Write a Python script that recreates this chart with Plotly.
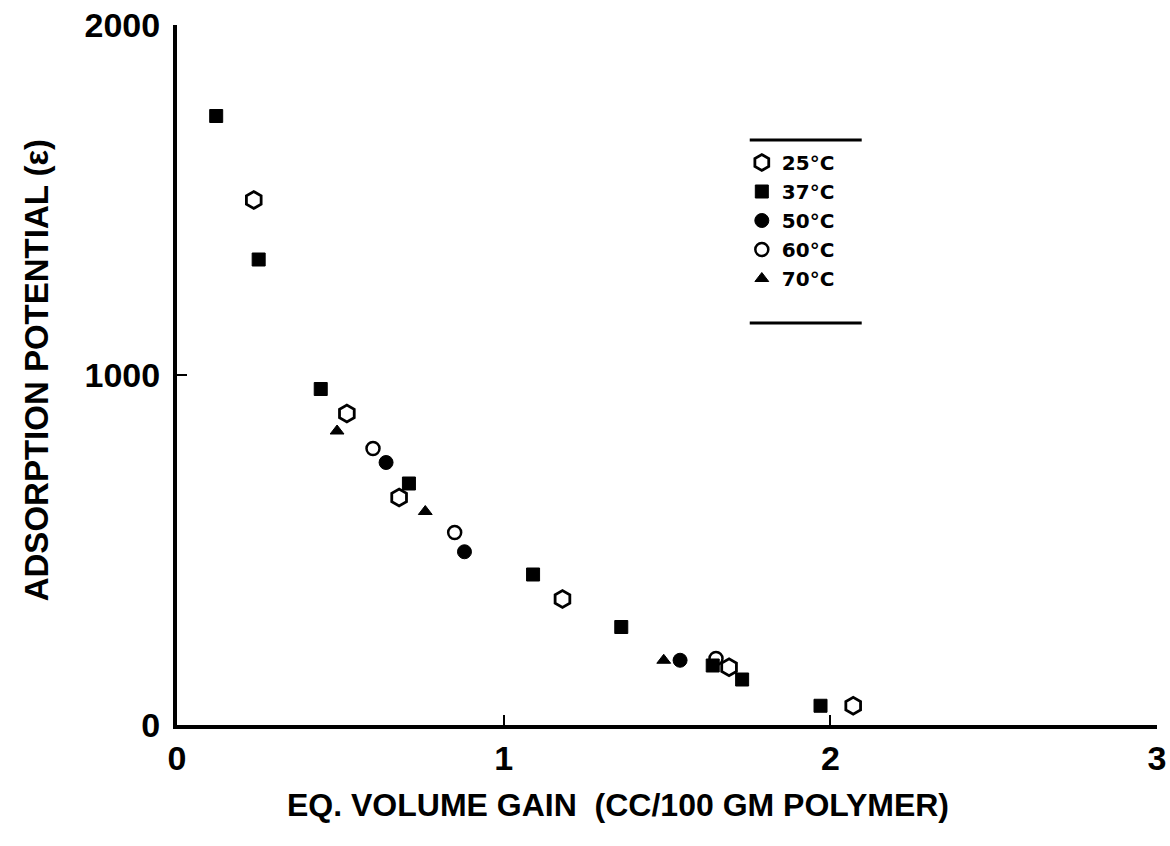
import plotly.graph_objects as go

# ---- data ----
x_25 = [0.235, 0.52, 0.68, 1.18, 1.69, 2.07]
y_25 = [1500, 890, 650, 360, 165, 55]

x_37 = [0.12, 0.25, 0.44, 0.71, 1.09, 1.36, 1.64, 1.73, 1.97]
y_37 = [1740, 1330, 960, 690, 430, 280, 170, 130, 55]

x_50 = [0.64, 0.88, 1.54]
y_50 = [750, 495, 185]

x_60 = [0.60, 0.85, 1.65]
y_60 = [790, 550, 190]

x_70 = [0.49, 0.76, 1.49]
y_70 = [840, 610, 185]

x_ticks = [0, 1, 2, 3]
y_ticks = [0, 1000, 2000]

FONT = "Liberation Sans"
W, H = 1170, 846
ML, MR, MT, MB = 177, 4, 25, 121

fig = go.Figure()
series = [
    ("25°C", x_25, y_25, "hexagon-open", 17, 2.8),
    ("37°C", x_37, y_37, "square", 13, 1),
    ("50°C", x_50, y_50, "circle", 14, 1),
    ("60°C", x_60, y_60, "circle-open", 13, 2.5),
    ("70°C", x_70, y_70, "triangle-up", 12, 1),
]
for name, xs, ys, sym, sz, lw in series:
    fig.add_trace(go.Scatter(
        x=xs, y=ys, mode="markers", name=name,
        marker=dict(symbol=sym, size=sz, color="black",
                    line=dict(color="black", width=lw)),
    ))

axis_font = dict(family=FONT, size=34, color="black", weight="bold")

def px_x(p):
    return (p - ML) / (W - ML - MR)

def px_y(p):
    return 1 - (p - MT) / (H - MT - MB)

fig.update_layout(
    width=W, height=H,
    margin=dict(l=ML, r=MR, t=MT, b=MB),
    paper_bgcolor="white", plot_bgcolor="white",
    showlegend=True,
    legend=dict(
        x=px_x(747), y=px_y(143), xanchor="left", yanchor="top",
        font=dict(family="DejaVu Sans", size=20, color="black", weight="bold"),
        bgcolor="rgba(0,0,0,0)", borderwidth=0,
        tracegroupgap=0, itemsizing="trace", itemwidth=30,
    ),
    xaxis=dict(
        range=[0, 3], tickvals=x_ticks, ticktext=[str(v) for v in x_ticks],
        showgrid=False, zeroline=False, showline=True, linecolor="black",
        linewidth=4, ticks="inside", ticklen=10, tickwidth=2, tickcolor="black",
        tickfont=axis_font, ticklabeloverflow="allow", ticklabelstandoff=0,
    ),
    yaxis=dict(
        range=[0, 2000], tickvals=y_ticks, ticktext=[str(v) for v in y_ticks],
        showgrid=False, zeroline=False, showline=True, linecolor="black",
        linewidth=4, ticks="inside", ticklen=10, tickwidth=2, tickcolor="black",
        tickfont=axis_font, ticklabelstandoff=6,
    ),
)

# axis titles
fig.add_annotation(
    text="EQ. VOLUME GAIN  (CC/100 GM POLYMER)", xref="paper", yref="paper",
    x=px_x(622), y=px_y(805), showarrow=False, xanchor="center", yanchor="middle",
    font=dict(family=FONT, size=32, color="black", weight="bold"),
)
fig.add_annotation(
    text="ADSORPTION POTENTIAL (ε)", xref="paper", yref="paper",
    x=px_x(35), y=px_y(370), showarrow=False, xanchor="center", yanchor="middle",
    textangle=-90,
    font=dict(family=FONT, size=33, color="black", weight="bold"),
)

# legend frame lines (top and bottom rules)
for yy in [140, 323]:
    fig.add_shape(type="line", xref="paper", yref="paper",
                  x0=px_x(755), x1=px_x(868), y0=px_y(yy), y1=px_y(yy),
                  line=dict(color="black", width=3))

fig.write_html("out.html")
